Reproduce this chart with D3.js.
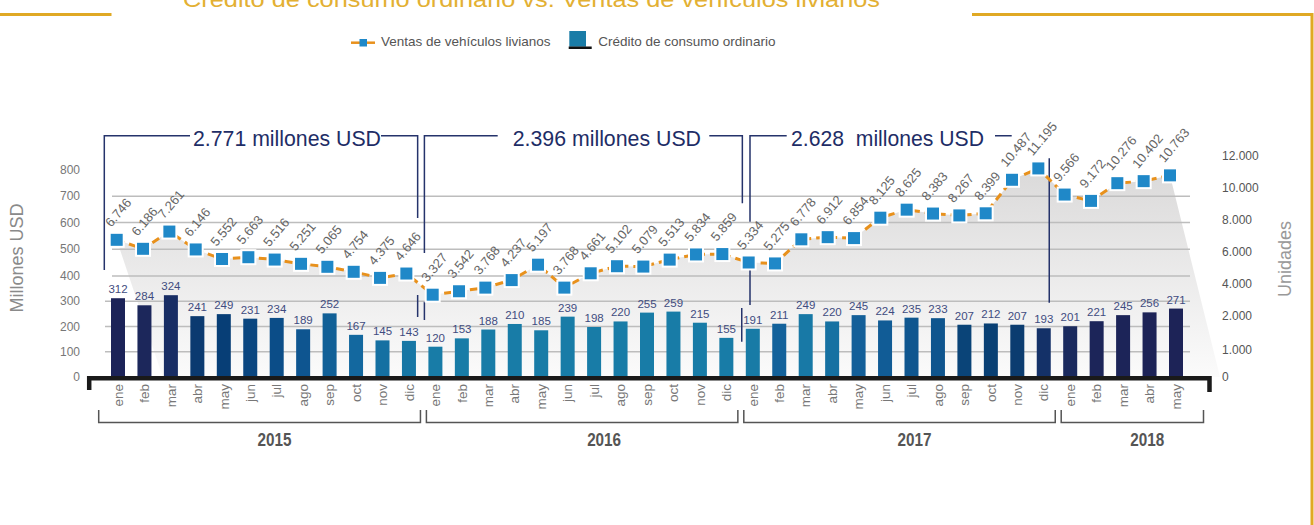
<!DOCTYPE html>
<html><head><meta charset="utf-8">
<script src="https://cdn.jsdelivr.net/npm/d3@7"></script>
<style>
html,body{margin:0;padding:0;background:#fff;}
svg{display:block;font-family:"Liberation Sans",Arial,sans-serif;}
</style></head>
<body><svg id="chart" width="1314" height="525"></svg>
<script>
// ---------------- DATA ----------------
const months = ["ene","feb","mar","abr","may","jun","jul","ago","sep","oct","nov","dic",
                "ene","feb","mar","abr","may","jun","jul","ago","sep","oct","nov","dic",
                "ene","feb","mar","abr","may","jun","jul","ago","sep","oct","nov","dic",
                "ene","feb","mar","abr","may"];
const years = ["2015","2016","2017","2018"];
const monthYear = [ ...Array(12).fill("2015"), ...Array(12).fill("2016"), ...Array(12).fill("2017"), ...Array(5).fill("2018") ];
const credito = [312,284,324,241,249,231,234,189,252,167,145,143,
                 120,153,188,210,185,239,198,220,255,259,215,155,
                 191,211,249,220,245,224,235,233,207,212,207,193,
                 201,221,245,256,271];
const ventas = [6746,6186,7261,6146,5552,5663,5516,5251,5065,4754,4375,4646,
                3327,3542,3768,4237,5197,3768,4661,5102,5079,5513,5834,5859,
                5334,5275,6778,6912,6854,8125,8625,8383,8267,8399,10487,11195,
                9566,9172,10276,10402,10763];
const leftTicks = [0,100,200,300,400,500,600,700,800];
const rightTicks = [0,1000,2000,4000,6000,8000,10000,12000];
const annualTotals = ["2.771 millones USD","2.396 millones USD","2.628  millones USD"];
const titleText = "Crédito de consumo ordinario vs. Ventas de vehículos livianos";
const legendLabels = ["Ventas de vehículos livianos","Crédito de consumo ordinario"];
const axisTitles = ["Millones USD","Unidades"];

// ---------------- STYLE ----------------
const barColors = ["#1c2358","#1c275b","#182d64","#0b3a70","#073e76","#0a4680","#0b4d88","#0e5590","#116097","#13689f","#1570a2","#1777a5",
  "#187ca7","#187ca7","#187ca7","#187ca7","#187ca7","#187ca7","#187ca7","#187ca7","#187ca7","#187ca7","#187ca7","#187ca7",
  "#187ba6","#13629b","#1879a6","#1671a2","#135f99","#115c96","#0f568f","#0f558e","#0a4478","#094074","#0b3c70","#143168",
  "#1a2a5e","#1c2559","#1c2458","#1d2357","#1d2357"];
const gold = "#e0a924", navy = "#25336b", orange = "#e8911c", markerBlue = "#1f88c8";

const loc = d3.formatLocale({decimal:",", thousands:".", grouping:[3], currency:["$",""]});
const fmt = loc.format(",d");

const svg = d3.select("#chart");
const idx = d3.range(months.length);

// scales
const xC = d3.scalePoint().domain(idx).range([118, 1176]);      // bars
const xL = d3.scalePoint().domain(idx).range([116.7, 1170]);    // line
const yL = d3.scaleLinear().domain([0,400,600,800]).range([377,276,222.5,170]); // millones USD
const yR = d3.scaleLinear().domain([0,1000,2000,12000]).range([376.7,350,316,155.5]); // unidades

// defs gradient
const defs = svg.append("defs");
const g1 = defs.append("linearGradient").attr("id","areaGrad")
  .attr("gradientUnits","userSpaceOnUse").attr("x1",0).attr("x2",0).attr("y1",160).attr("y2",377);
g1.append("stop").attr("offset","0").attr("stop-color","#d9d8d8");
g1.append("stop").attr("offset","1").attr("stop-color","#fbfbfb");

// area under line
const pts = idx.map(i => [xL(i), yR(ventas[i])]);
const areaPts = [[xL(0)+46, yL(0)], ...pts, [xL(idx.length-1)+50, yL(0)]];
svg.append("path").attr("d", d3.line()(areaPts) + "Z").attr("fill","url(#areaGrad)");

// gridlines
svg.append("g").selectAll("line").data(leftTicks.filter(d => d>0 && d<800)).join("line")
  .attr("x1", d => d <= 300 ? 105 : 112).attr("x2", 1190)
  .attr("y1", d => yL(d)).attr("y2", d => yL(d))
  .attr("stroke","#bdbdbd").attr("stroke-width",1.5);

// bars
svg.append("g").selectAll("rect").data(idx).join("rect")
  .attr("x", i => xC(i)-7).attr("width",14)
  .attr("y", i => yL(credito[i])).attr("height", i => yL(0)-yL(credito[i]))
  .attr("fill", i => barColors[i]);

// bar labels
svg.append("g").selectAll("text").data(idx).join("text")
  .attr("x", i => xC(i)).attr("y", i => yL(credito[i]) - 5)
  .attr("text-anchor","middle").attr("font-size",11.5).attr("fill","#3f4c80")
  .text(i => credito[i]);

// annotation brackets
const ann = svg.append("g").attr("stroke", navy).attr("stroke-width",1.5).attr("fill","none");
const y0 = 135.8;
const b1L = xC(0)-13.7, b1R = xC(11)+8.7;
const b2L = xC(12)-11, b2R = xC(23)+16;
const b3L = xC(24)-2.8, sep = xC(35)+5.5;
ann.append("path").attr("d", `M${b1L},270V${y0}H190M381,${y0}H${b1R}V218M${b1R},295V317`);
ann.append("path").attr("d", `M${b2L},253V${y0}H497.7M709.3,${y0}H${b2R}V203.3M${b2L},301.7V320M${b2R-0.6},308V341.7`);
ann.append("path").attr("d", `M${b3L},221.7V${y0}H786.7M995,${y0}H1011.7M${b3L},263V305`);
ann.append("path").attr("d", `M${sep},158.3V302.7`);
const annX = [193, 512.7, 791], annW = [188, 188.3, 193];
svg.append("g").selectAll("text").data(annualTotals).join("text")
  .attr("x",(d,i)=>annX[i]).attr("y",146).attr("font-size",22).attr("fill","#1e2d66")
  .attr("textLength",(d,i)=>annW[i]).attr("lengthAdjust","spacingAndGlyphs")
  .style("white-space","pre")
  .text(d=>d);

// line
svg.append("path").attr("d", d3.line()(pts)).attr("fill","none")
  .attr("stroke", orange).attr("stroke-width",3).attr("stroke-dasharray","8,5");
// markers
svg.append("g").selectAll("rect").data(idx).join("rect")
  .attr("x", i => xL(i)-7).attr("y", i => yR(ventas[i])-7).attr("width",14).attr("height",14)
  .attr("fill", markerBlue).attr("stroke","#fff").attr("stroke-width",2);
// line labels
svg.append("g").selectAll("text").data(idx).join("text")
  .attr("transform", i => `translate(${xL(i)-5.5},${yR(ventas[i])-12}) rotate(-50)`)
  .attr("font-size",13).attr("fill","#666")
  .text(i => fmt(ventas[i]));

// x axis black line
svg.append("path").attr("d","M89.2,390V378.2H1209.5V392").attr("fill","none")
  .attr("stroke","#1a1a1a").attr("stroke-width",4.5);

// month labels
svg.append("g").selectAll("text").data(idx).join("text")
  .attr("transform", i => `translate(${xC(i)},384) rotate(-90)`)
  .attr("text-anchor","end").attr("dy","0.35em").attr("font-size",13.5).attr("fill","#777")
  .text(i => months[i]);

// year brackets
const yb = svg.append("g");
years.forEach((yr, k) => {
  const ii = idx.filter(i => monthYear[i] === yr);
  const first = ii[0], last = ii[ii.length-1];
  const xs = first === 0 ? xC(first)-19.3 : xC(first)-9;
  const xe = k === years.length-1 ? xC(last)+27.5 : xC(last)+11.5;
  yb.append("path").attr("d",`M${xs},410V422.5H${xe}V410`).attr("fill","none")
    .attr("stroke","#555").attr("stroke-width",1.5);
  const cx = (xs+xe)/2 + (k===1?22:15);
  yb.append("text").attr("x",cx-17).attr("y",446)
    .attr("font-weight","bold").attr("font-size",18).attr("fill","#555")
    .attr("textLength",34).attr("lengthAdjust","spacingAndGlyphs").text(yr);
});

// left axis labels
svg.append("g").selectAll("text").data(leftTicks).join("text")
  .attr("x",80).attr("y", d => yL(d)).attr("dy","0.35em").attr("text-anchor","end")
  .attr("font-size",12).attr("fill","#777").text(d => d);
// right axis labels
svg.append("g").selectAll("text").data(rightTicks).join("text")
  .attr("x",1222).attr("y", d => yR(d)).attr("dy","0.35em")
  .attr("font-size",12).attr("fill","#555").text(d => fmt(d));

// axis titles
svg.append("text").attr("transform","translate(23,258) rotate(-90)").attr("text-anchor","middle")
  .attr("font-size",18).attr("fill","#8a8a8a").text(axisTitles[0]);
svg.append("text").attr("transform","translate(1291,259) rotate(-90)").attr("text-anchor","middle")
  .attr("font-size",18).attr("fill","#999").text(axisTitles[1]);

// legend
const lg = svg.append("g");
lg.append("line").attr("x1",351).attr("x2",375).attr("y1",42.7).attr("y2",42.7).attr("stroke",orange).attr("stroke-width",2.5);
lg.append("rect").attr("x",359.5).attr("y",39).attr("width",7.5).attr("height",7.5).attr("fill",markerBlue);
lg.append("text").attr("x",381).attr("y",45.5).attr("font-size",13.5).attr("fill","#555").text(legendLabels[0]);
lg.append("rect").attr("x",569.3).attr("y",31).attr("width",16.7).attr("height",15.7).attr("fill","#1a7ca7");
lg.append("rect").attr("x",568.7).attr("y",46.5).attr("width",23).attr("height",2.5).attr("fill","#111");
lg.append("text").attr("x",598.3).attr("y",45.5).attr("font-size",13.5).attr("fill","#555").text(legendLabels[1]);

// title and gold frame
svg.append("text").attr("x",183).attr("y",6.5).attr("font-size",22).attr("fill","#e3b033")
  .attr("textLength",697).attr("lengthAdjust","spacingAndGlyphs").text(titleText);
svg.append("path").attr("d","M0,14.5H111.5M972,14.5H1312V525").attr("fill","none")
  .attr("stroke",gold).attr("stroke-width",3);
</script></body></html>
